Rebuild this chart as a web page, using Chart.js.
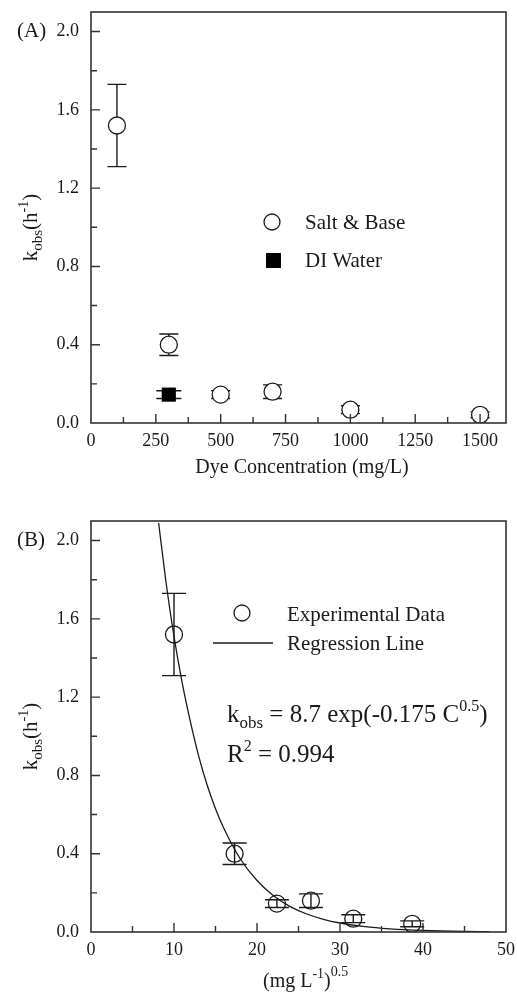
<!DOCTYPE html>
<html>
<head>
<meta charset="utf-8">
<script src="https://cdn.jsdelivr.net/npm/chart.js@4.4.0/dist/chart.umd.min.js"></script>
<style>
    html, body { margin: 0; padding: 0; background: #fff; }
    #wrapA { position: absolute; left: 0; top: 0; width: 517px; height: 497px; }
    #wrapB { position: absolute; left: 0; top: 497px; width: 517px; height: 500px; }
</style>
</head>
<body>
<div id="wrapA"><canvas id="chartA"></canvas></div>
<div id="wrapB"><canvas id="chartB"></canvas></div>
<script>
// Panel A: k_obs vs dye concentration
const dyeConc = [100, 300, 500, 700, 1000, 1500];
const kObs = [1.52, 0.40, 0.145, 0.16, 0.068, 0.042];
const kErr = [0.21, 0.055, 0.02, 0.035, 0.02, 0.015];
const diConc = [300];
const diK = [0.145];
const diErr = [0.02];

// Panel B: k_obs vs square root of concentration, with regression line
const sqrtConc = [10, 17.3, 22.4, 26.5, 31.6, 38.7];
const fitX = [8.15, 9, 10, 11, 12, 13, 14, 15, 16, 18, 20, 22, 24, 26, 28, 30, 33, 36, 40, 45, 48];
const fitY = [2.09, 1.80, 1.51, 1.27, 1.07, 0.895, 0.75, 0.63, 0.53, 0.373, 0.263, 0.185, 0.13, 0.092, 0.065, 0.046, 0.027, 0.016, 0.008, 0.003, 0.002];

const yTicks = ['0.0', '0.4', '0.8', '1.2', '1.6', '2.0'];
const xTicksA = ['0', '250', '500', '750', '1000', '1250', '1500'];
const xTicksB = ['0', '10', '20', '30', '40', '50'];

const SERIF = "'Liberation Serif', 'Times New Roman', serif";
const INK = '#1a1a1a';

function pts(xs, ys) {
    return xs.map((x, i) => ({ x: x, y: ys[i] }));
}

// draws text made of pieces with their own size and vertical shift
function drawRich(ctx, parts, x, y, align) {
    let w = 0;
    parts.forEach(p => {
        ctx.font = p.size + 'px ' + SERIF;
        p.w = ctx.measureText(p.t).width;
        w += p.w;
    });
    let cx = align === 'center' ? x - w / 2 : x;
    ctx.textAlign = 'left';
    ctx.textBaseline = 'alphabetic';
    parts.forEach(p => {
        ctx.font = p.size + 'px ' + SERIF;
        ctx.fillText(p.t, cx, y + (p.dy || 0));
        cx += p.w;
    });
}

// error bars under the markers
const errorBars = {
    id: 'errorBars',
    beforeDatasetsDraw(chart, args, opts) {
        const ctx = chart.ctx;
        const xs = chart.scales.x, ys = chart.scales.y;
        ctx.save();
        ctx.strokeStyle = INK;
        ctx.lineWidth = 1.4;
        (opts.sets || []).forEach(s => {
            s.x.forEach((xv, i) => {
                const px = xs.getPixelForValue(xv);
                const top = ys.getPixelForValue(s.y[i] + s.e[i]);
                const bot = ys.getPixelForValue(s.y[i] - s.e[i]);
                ctx.beginPath();
                ctx.moveTo(px, top); ctx.lineTo(px, bot);
                ctx.moveTo(px - s.cap / 2, top); ctx.lineTo(px + s.cap / 2, top);
                ctx.moveTo(px - s.cap / 2, bot); ctx.lineTo(px + s.cap / 2, bot);
                ctx.stroke();
            });
        });
        ctx.restore();
    }
};

// frame, inward ticks, titles and in-plot texts
const decor = {
    id: 'decor',
    afterDraw(chart, args, opts) {
        const ctx = chart.ctx;
        const a = chart.chartArea;
        const xs = chart.scales.x, ys = chart.scales.y;
        ctx.save();
        ctx.strokeStyle = '#333';
        ctx.lineWidth = 1.6;
        ctx.strokeRect(a.left, a.top, a.right - a.left, a.bottom - a.top);

        ctx.lineWidth = 1.4;
        ctx.beginPath();
        xs.ticks.forEach(t => {
            const px = xs.getPixelForValue(t.value);
            if (px <= a.left + 1 || px >= a.right - 1) return;
            const len = t.label !== '' ? 9 : 6;
            ctx.moveTo(px, a.bottom); ctx.lineTo(px, a.bottom - len);
        });
        ys.ticks.forEach(t => {
            const py = ys.getPixelForValue(t.value);
            if (py >= a.bottom - 1) return;
            const len = t.label !== '' ? 9 : 6;
            ctx.moveTo(a.left, py); ctx.lineTo(a.left + len, py);
        });
        ctx.stroke();

        ctx.fillStyle = INK;
        // y-axis title
        ctx.save();
        ctx.translate(37, (a.top + a.bottom) / 2 + 10);
        ctx.rotate(-Math.PI / 2);
        drawRich(ctx, [
            { t: 'k', size: 21 },
            { t: 'obs', size: 15, dy: 5 },
            { t: '(h', size: 21 },
            { t: '-1', size: 14, dy: -9 },
            { t: ')', size: 21 }
        ], 0, 0, 'center');
        ctx.restore();

        // panel letter
        ctx.font = '21px ' + SERIF;
        ctx.textAlign = 'left';
        ctx.textBaseline = 'middle';
        ctx.fillText(opts.letter, 17, ys.getPixelForValue(2.0));

        if (opts.panel === 'A') {
            ctx.font = '20px ' + SERIF;
            ctx.textAlign = 'center';
            ctx.textBaseline = 'alphabetic';
            ctx.fillText('Dye Concentration (mg/L)', 302, 473);

            // legend
            ctx.lineWidth = 1.3;
            ctx.strokeStyle = INK;
            ctx.beginPath();
            ctx.arc(272, 222, 8, 0, Math.PI * 2);
            ctx.fillStyle = '#fff';
            ctx.fill();
            ctx.stroke();
            ctx.fillStyle = '#000';
            ctx.fillRect(266, 253, 15, 15);
            ctx.fillStyle = INK;
            ctx.font = '21px ' + SERIF;
            ctx.textAlign = 'left';
            ctx.textBaseline = 'middle';
            ctx.fillText('Salt & Base', 305, 223);
            ctx.fillText('DI Water', 305, 261);
        } else {
            drawRich(ctx, [
                { t: '(mg L', size: 20 },
                { t: '-1', size: 14, dy: -9 },
                { t: ')', size: 20 },
                { t: '0.5', size: 14, dy: -11 }
            ], 263, 490, 'left');

            // legend
            ctx.lineWidth = 1.3;
            ctx.strokeStyle = INK;
            ctx.beginPath();
            ctx.arc(242, 116, 8, 0, Math.PI * 2);
            ctx.stroke();
            ctx.beginPath();
            ctx.moveTo(213, 146); ctx.lineTo(273, 146);
            ctx.stroke();
            ctx.font = '21px ' + SERIF;
            ctx.textAlign = 'left';
            ctx.textBaseline = 'middle';
            ctx.fillText('Experimental Data', 287, 118);
            ctx.fillText('Regression Line', 287, 147);

            // fitted equation
            drawRich(ctx, [
                { t: 'k', size: 25 },
                { t: 'obs', size: 17, dy: 6 },
                { t: ' = 8.7 exp(-0.175 C', size: 25 },
                { t: '0.5', size: 16, dy: -11 },
                { t: ')', size: 25 }
            ], 227, 225, 'left');
            drawRich(ctx, [
                { t: 'R', size: 25 },
                { t: '2', size: 16, dy: -11 },
                { t: ' = 0.994', size: 25 }
            ], 227, 265, 'left');
        }
        ctx.restore();
    }
};

function axisOpts(min, max, step, labels, fmt, fitSize, isX) {
    return {
        type: 'linear',
        min: min,
        max: max,
        grid: { display: false, drawTicks: false },
        border: { display: false },
        ticks: {
            stepSize: step,
            includeBounds: false,
            autoSkip: false,
            maxRotation: 0,
            padding: isX ? 7 : 12,
            color: INK,
            font: { family: SERIF, size: 18 },
            callback: function(value) {
                const s = fmt(value);
                return labels.includes(s) ? s : '';
            }
        },
        afterFit: function(scale) {
            // keep the plot box exactly where the layout padding puts it
            scale.paddingTop = 0;
            scale.paddingBottom = 0;
            scale.paddingLeft = 0;
            scale.paddingRight = 0;
            if (isX) scale.height = fitSize; else scale.width = fitSize;
        }
    };
}

const yFmt = v => (Math.round(v * 10) / 10).toFixed(1);
const xFmt = v => String(Math.round(v));

const common = {
    responsive: true,
    maintainAspectRatio: false,
    animation: false,
    plugins: {
        legend: { display: false },
        tooltip: { enabled: false }
    }
};

new Chart(document.getElementById('chartA').getContext('2d'), {
    type: 'scatter',
    data: {
        datasets: [{
            label: 'Salt & Base',
            data: pts(dyeConc, kObs),
            pointStyle: 'circle',
            pointRadius: 8.5,
            borderWidth: 1.3,
            borderColor: INK,
            backgroundColor: '#fff'
        }, {
            label: 'DI Water',
            data: pts(diConc, diK),
            pointStyle: 'rect',
            pointRadius: 10,
            borderWidth: 0,
            borderColor: '#000',
            backgroundColor: '#000'
        }]
    },
    options: {
        ...common,
        layout: { padding: { left: 0, top: 12, right: 11, bottom: 0 } },
        scales: {
            x: axisOpts(0, 1600, 125, xTicksA, xFmt, 74, true),
            y: axisOpts(0, 2.1, 0.2, yTicks, yFmt, 91, false)
        },
        plugins: {
            ...common.plugins,
            errorBars: { sets: [
                { x: dyeConc, y: kObs, e: kErr, cap: 19 },
                { x: diConc, y: diK, e: diErr, cap: 25 }
            ] },
            decor: { panel: 'A', letter: '(A)' }
        }
    },
    plugins: [errorBars, decor]
});

new Chart(document.getElementById('chartB').getContext('2d'), {
    type: 'scatter',
    data: {
        datasets: [{
            label: 'Regression Line',
            data: pts(fitX, fitY),
            showLine: true,
            pointRadius: 0,
            borderWidth: 1.3,
            borderColor: INK,
            cubicInterpolationMode: 'monotone',
            order: 0
        }, {
            label: 'Experimental Data',
            data: pts(sqrtConc, kObs),
            pointStyle: 'circle',
            pointRadius: 8.5,
            borderWidth: 1.3,
            borderColor: INK,
            backgroundColor: 'rgba(255,255,255,0)',
            order: 1
        }]
    },
    options: {
        ...common,
        layout: { padding: { left: 0, top: 24, right: 11, bottom: 0 } },
        scales: {
            x: axisOpts(0, 50, 5, xTicksB, xFmt, 65, true),
            y: axisOpts(0, 2.1, 0.2, yTicks, yFmt, 91, false)
        },
        plugins: {
            ...common.plugins,
            errorBars: { sets: [
                { x: sqrtConc, y: kObs, e: kErr, cap: 24 }
            ] },
            decor: { panel: 'B', letter: '(B)' }
        }
    },
    plugins: [errorBars, decor]
});
</script>
</body>
</html>
